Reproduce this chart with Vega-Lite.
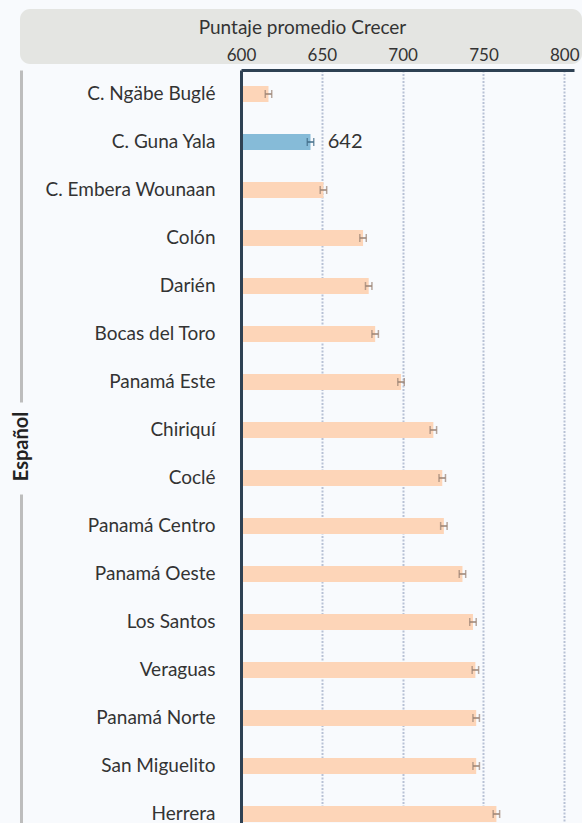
{
  "$schema": "https://vega.github.io/schema/vega-lite/v6.json",
  "background": "#f8fafd",
  "padding": {"left": 11, "top": 9, "right": 0, "bottom": 0},
  "autosize": {"type": "pad"},
  "spacing": 6,
  "config": {
    "font": "Lato",
    "view": {"stroke": null},
    "axis": {"labelFont": "Lato", "titleFont": "Lato"}
  },
  "datasets": {
    "d": [
      {"region": "C. Ngäbe Buglé", "valor": 617, "lo": 615, "hi": 619, "tipo": "otro", "etiqueta": "", "grupo": "Español"},
      {"region": "C. Guna Yala", "valor": 643, "lo": 641, "hi": 645, "tipo": "resaltado", "etiqueta": "642", "grupo": "Español"},
      {"region": "C. Embera Wounaan", "valor": 651, "lo": 649, "hi": 653, "tipo": "otro", "etiqueta": "", "grupo": "Español"},
      {"region": "Colón", "valor": 675.5, "lo": 673.5, "hi": 677.5, "tipo": "otro", "etiqueta": "", "grupo": "Español"},
      {"region": "Darién", "valor": 679, "lo": 677, "hi": 681, "tipo": "otro", "etiqueta": "", "grupo": "Español"},
      {"region": "Bocas del Toro", "valor": 683, "lo": 681, "hi": 685, "tipo": "otro", "etiqueta": "", "grupo": "Español"},
      {"region": "Panamá Este", "valor": 699, "lo": 697, "hi": 701, "tipo": "otro", "etiqueta": "", "grupo": "Español"},
      {"region": "Chiriquí", "valor": 719, "lo": 717, "hi": 721, "tipo": "otro", "etiqueta": "", "grupo": "Español"},
      {"region": "Coclé", "valor": 724.5, "lo": 722.5, "hi": 726.5, "tipo": "otro", "etiqueta": "", "grupo": "Español"},
      {"region": "Panamá Centro", "valor": 725.5, "lo": 723.5, "hi": 727.5, "tipo": "otro", "etiqueta": "", "grupo": "Español"},
      {"region": "Panamá Oeste", "valor": 737, "lo": 735, "hi": 739, "tipo": "otro", "etiqueta": "", "grupo": "Español"},
      {"region": "Los Santos", "valor": 743.5, "lo": 741.5, "hi": 745.5, "tipo": "otro", "etiqueta": "", "grupo": "Español"},
      {"region": "Veraguas", "valor": 745, "lo": 743, "hi": 747, "tipo": "otro", "etiqueta": "", "grupo": "Español"},
      {"region": "Panamá Norte", "valor": 745.5, "lo": 743.5, "hi": 747.5, "tipo": "otro", "etiqueta": "", "grupo": "Español"},
      {"region": "San Miguelito", "valor": 745.5, "lo": 743.5, "hi": 747.5, "tipo": "otro", "etiqueta": "", "grupo": "Español"},
      {"region": "Herrera", "valor": 758, "lo": 756, "hi": 760, "tipo": "otro", "etiqueta": "", "grupo": "Español"}
    ]
  },
  "vconcat": [
    {
      "width": 562,
      "height": 55,
      "view": {"fill": "#e4e5e2", "cornerRadius": 10, "stroke": null},
      "data": {"name": "d"},
      "mark": {"type": "tick", "opacity": 0},
      "encoding": {
        "x": {
          "field": "valor",
          "type": "quantitative",
          "scale": {"domain": [600, 806], "range": [221, 554], "nice": false, "zero": false},
          "axis": {
            "orient": "top",
            "offset": -53,
            "values": [600, 650, 700, 750, 800],
            "domain": false,
            "ticks": false,
            "grid": false,
            "labelFontSize": 17,
            "labelColor": "#333333",
            "labelBaseline": "alphabetic",
            "labelPadding": 2,
            "labelFlush": false,
            "labelOverlap": false,
            "title": "Puntaje promedio Crecer",
            "titleFontSize": 19,
            "titleFontWeight": "normal",
            "titleColor": "#333333",
            "titleX": 282,
            "titleY": -35,
            "titleBaseline": "middle",
            "titleAlign": "center"
          }
        }
      }
    },
    {
      "width": 554,
      "height": 768,
      "data": {"name": "d"},
      "layer": [
        {
          "encoding": {
            "y": {
              "field": "region",
              "type": "nominal",
              "sort": null,
              "scale": {"paddingInner": 0, "paddingOuter": 0},
              "axis": {
                "orient": "left",
                "offset": -221,
                "title": null,
                "domain": true,
                "domainColor": "#2e4153",
                "domainWidth": 3,
                "ticks": false,
                "grid": false,
                "labelPadding": 26,
                "labelFontSize": 19,
                "labelColor": "#333333",
                "zindex": 1
              }
            }
          },
          "layer": [
            {
              "mark": {"type": "bar", "height": 16},
              "encoding": {
                "x": {
                  "field": "valor",
                  "type": "quantitative",
                  "scale": {"domain": [600, 806], "range": [221, 554], "nice": false, "zero": false},
                  "axis": {
                    "orient": "top",
                    "title": null,
                    "labels": false,
                    "ticks": false,
                    "domain": true,
                    "domainColor": "#2e4153",
                    "domainWidth": 3,
                    "grid": true,
                    "gridColor": "#b8c1d5",
                    "gridWidth": 2,
                    "gridDash": [2, 1.5],
                    "values": [650, 700, 750, 800],
                    "zindex": 0
                  }
                },
                "x2": {"datum": 600},
                "color": {
                  "condition": {"test": "datum.tipo === 'resaltado'", "value": "#86bbd8"},
                  "value": "#fdd5b8"
                }
              }
            },
            {
              "mark": {"type": "rule", "strokeWidth": 1.5},
              "encoding": {
                "x": {"field": "lo", "type": "quantitative"},
                "x2": {"field": "hi"},
                "color": {
                  "condition": {"test": "datum.tipo === 'resaltado'", "value": "#3f6a86"},
                  "value": "#9a8273"
                }
              }
            },
            {
              "mark": {"type": "tick", "orient": "vertical", "size": 8, "thickness": 1.5},
              "encoding": {
                "x": {"field": "lo", "type": "quantitative"},
                "color": {
                  "condition": {"test": "datum.tipo === 'resaltado'", "value": "#3f6a86"},
                  "value": "#9a8273"
                }
              }
            },
            {
              "mark": {"type": "tick", "orient": "vertical", "size": 8, "thickness": 1.5},
              "encoding": {
                "x": {"field": "hi", "type": "quantitative"},
                "color": {
                  "condition": {"test": "datum.tipo === 'resaltado'", "value": "#3f6a86"},
                  "value": "#9a8273"
                }
              }
            },
            {
              "transform": [{"filter": "datum.tipo === 'resaltado'"}],
              "mark": {"type": "text", "align": "left", "baseline": "middle", "dx": 14, "fontSize": 20, "color": "#333333"},
              "encoding": {
                "x": {"field": "hi", "type": "quantitative"},
                "text": {"field": "etiqueta"}
              }
            }
          ]
        },
        {
          "mark": {"type": "rule", "opacity": 0},
          "encoding": {
            "y": {
              "field": "grupo",
              "type": "nominal",
              "axis": {
                "orient": "left",
                "offset": -1,
                "domain": true,
                "domainColor": "#bdbdbd",
                "domainWidth": 3,
                "domainCap": "butt",
                "domainDash": [332, 92, 2000],
                "labels": false,
                "ticks": false,
                "grid": false,
                "title": "Español",
                "titleFontSize": 20,
                "titleFontWeight": "bold",
                "titleColor": "#222222",
                "titleAngle": -90,
                "titleX": 0,
                "titleY": 376,
                "titleBaseline": "middle",
                "titleAlign": "center"
              }
            }
          }
        }
      ],
      "resolve": {"scale": {"y": "independent"}, "axis": {"y": "independent"}}
    }
  ],
  "resolve": {"scale": {"x": "independent", "y": "independent"}, "axis": {"x": "independent", "y": "independent"}}
}
